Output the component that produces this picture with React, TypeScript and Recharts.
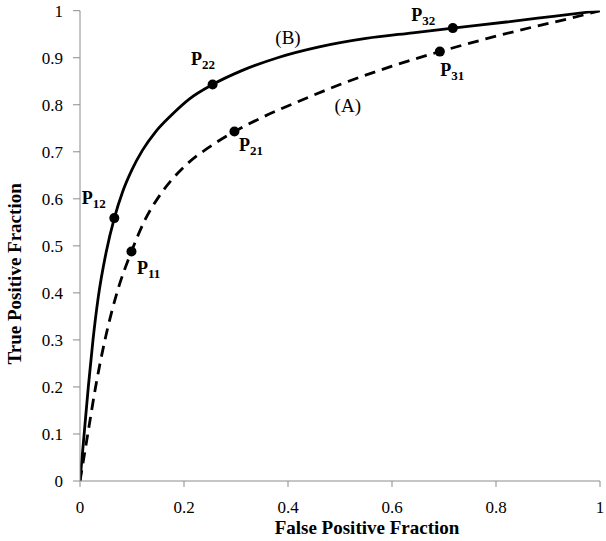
import React from "react";
import { ComposedChart, Line, Scatter, XAxis, YAxis, LabelList, Label } from "recharts";

// ROC curves
const curveA = [
  { x: 0, y: 0 },
  { x: 0.006, y: 0.04 },
  { x: 0.015, y: 0.1 },
  { x: 0.03, y: 0.2 },
  { x: 0.048, y: 0.3 },
  { x: 0.071, y: 0.4 },
  { x: 0.099, y: 0.488 },
  { x: 0.124, y: 0.553 },
  { x: 0.155, y: 0.61 },
  { x: 0.2, y: 0.668 },
  { x: 0.25, y: 0.711 },
  { x: 0.297, y: 0.743 },
  { x: 0.35, y: 0.773 },
  { x: 0.42, y: 0.807 },
  { x: 0.5, y: 0.843 },
  { x: 0.6, y: 0.882 },
  { x: 0.692, y: 0.913 },
  { x: 0.78, y: 0.94 },
  { x: 0.87, y: 0.965 },
  { x: 0.94, y: 0.983 },
  { x: 1, y: 1 },
];

const curveB = [
  { x: 0, y: 0 },
  { x: 0.008, y: 0.1 },
  { x: 0.016, y: 0.2 },
  { x: 0.025, y: 0.3 },
  { x: 0.035, y: 0.39 },
  { x: 0.05, y: 0.485 },
  { x: 0.066, y: 0.559 },
  { x: 0.082, y: 0.615 },
  { x: 0.1, y: 0.662 },
  { x: 0.12, y: 0.703 },
  { x: 0.145, y: 0.742 },
  { x: 0.175, y: 0.777 },
  { x: 0.21, y: 0.812 },
  { x: 0.255, y: 0.843 },
  { x: 0.31, y: 0.872 },
  { x: 0.38, y: 0.9 },
  { x: 0.46, y: 0.923 },
  { x: 0.55, y: 0.941 },
  { x: 0.64, y: 0.953 },
  { x: 0.717, y: 0.963 },
  { x: 0.82, y: 0.976 },
  { x: 0.91, y: 0.988 },
  { x: 1, y: 1 },
];

// operating points
const pointsA = [
  { name: "11", x: 0.099, y: 0.488 },
  { name: "21", x: 0.297, y: 0.743 },
  { name: "31", x: 0.692, y: 0.913 },
];
const pointsB = [
  { name: "12", x: 0.066, y: 0.559 },
  { name: "22", x: 0.255, y: 0.843 },
  { name: "32", x: 0.717, y: 0.963 },
];

const curveNames = [
  { name: "(B)", x: 0.4, y: 0.93 },
  { name: "(A)", x: 0.515, y: 0.785 },
];

const xTicks = [0, 0.2, 0.4, 0.6, 0.8, 1];
const yTicks = [0, 0.1, 0.2, 0.3, 0.4, 0.5, 0.6, 0.7, 0.8, 0.9, 1];

// label placement relative to each dot (px)
const labelOffset: Record<string, [number, number]> = {
  "11": [10, 27],
  "21": [9, 24],
  "31": [5, 29],
  "12": [-28, -10],
  "22": [-17, -15],
  "32": [-37, -3],
};

const serif = "'Liberation Serif', 'Times New Roman', serif";
const axisColor = "#8c8c8c";

const PointLabel = (props: any) => {
  const { x, y, value } = props;
  const [dx, dy] = labelOffset[value] || [0, 0];
  return (
    <text x={x + dx} y={y + dy} fontFamily={serif} fontWeight="bold" fontSize={18} fill="#000">
      P
      <tspan fontSize={13} dy={4}>
        {value}
      </tspan>
    </text>
  );
};

const NameShape = (props: any) => (
  <text x={props.cx} y={props.cy} textAnchor="middle" fontFamily={serif} fontSize={19} fill="#000">
    {props.payload.name}
  </text>
);

const XTick = (props: any) => (
  <text x={props.x} y={props.y + 12} textAnchor="middle" fontFamily={serif} fontSize={17} fill="#000">
    {props.payload.value}
  </text>
);

const YTick = (props: any) => (
  <text x={props.x} y={props.y + 6} textAnchor="end" fontFamily={serif} fontSize={17} fill="#000">
    {props.payload.value}
  </text>
);

const XTitle = (props: any) => {
  const vb = props.viewBox || { x: 80, y: 481, width: 520, height: 60 };
  return (
    <text x={vb.x + vb.width / 2 + 27} y={vb.y + 53} textAnchor="middle" fontFamily={serif} fontWeight="bold" fontSize={19} fill="#000">
      False Positive Fraction
    </text>
  );
};

const YTitle = (props: any) => {
  const vb = props.viewBox || { x: 0, y: 10.7, width: 80, height: 470 };
  const cx = vb.x + 21;
  const cy = vb.y + vb.height / 2 + 28;
  return (
    <text x={cx} y={cy} transform={`rotate(-90 ${cx} ${cy})`} textAnchor="middle" fontFamily={serif} fontWeight="bold" fontSize={19} fill="#000">
      True Positive Fraction
    </text>
  );
};

export default function App() {
  return (
    <div style={{ width: 606, height: 541, background: "#fff" }}>
      <style>{`body{margin:0}`}</style>
      <ComposedChart width={606} height={541} margin={{ top: 10.7, right: 6, bottom: 0, left: 0 }}>
        <XAxis
          type="number"
          dataKey="x"
          domain={[0, 1]}
          ticks={xTicks}
          height={60}
          stroke={axisColor}
          tickSize={6}
          tickMargin={14}
          tick={XTick}
          allowDataOverflow
        >
          <Label content={XTitle} />
        </XAxis>
        <YAxis
          type="number"
          dataKey="y"
          domain={[0, 1]}
          ticks={yTicks}
          width={80}
          stroke={axisColor}
          tickSize={7}
          tickMargin={10}
          tick={YTick}
          allowDataOverflow
        >
          <Label content={YTitle} />
        </YAxis>
        <Line
          data={curveA}
          dataKey="y"
          type="monotone"
          stroke="#000"
          strokeWidth={2.8}
          strokeDasharray="11 7"
          dot={false}
          isAnimationActive={false}
        />
        <Line
          data={curveB}
          dataKey="y"
          type="monotone"
          stroke="#000"
          strokeWidth={2.8}
          dot={false}
          isAnimationActive={false}
        />
        <Scatter data={pointsA} dataKey="y" fill="#000" shape={(p: any) => <circle cx={p.cx} cy={p.cy} r={5} fill="#000" />} isAnimationActive={false}>
          <LabelList dataKey="name" content={PointLabel} />
        </Scatter>
        <Scatter data={pointsB} dataKey="y" fill="#000" shape={(p: any) => <circle cx={p.cx} cy={p.cy} r={5} fill="#000" />} isAnimationActive={false}>
          <LabelList dataKey="name" content={PointLabel} />
        </Scatter>
        <Scatter data={curveNames} dataKey="y" shape={NameShape} isAnimationActive={false} />
      </ComposedChart>
    </div>
  );
}
